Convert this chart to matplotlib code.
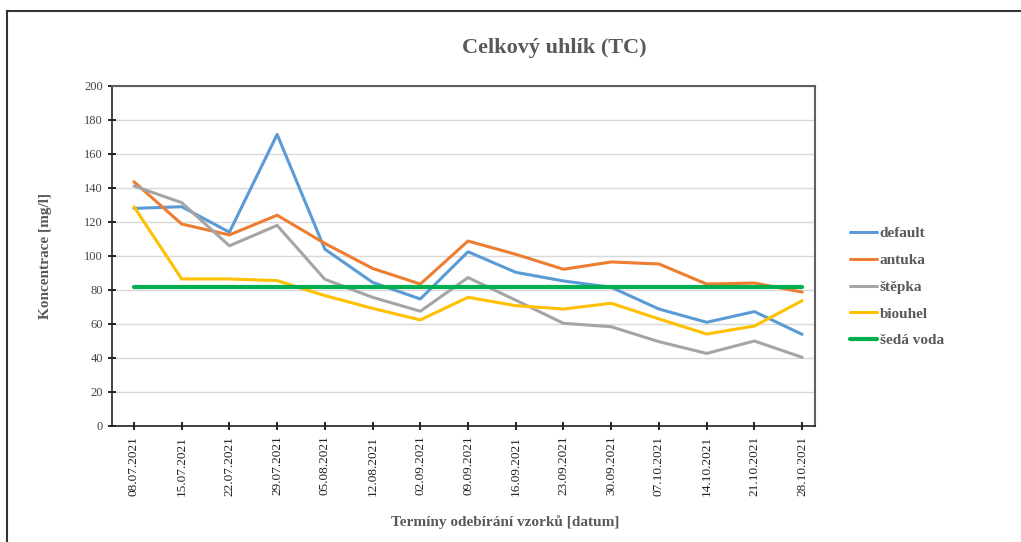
import matplotlib.pyplot as plt
from matplotlib.lines import Line2D

plt.rcParams['font.family'] = ['Liberation Serif', 'DejaVu Serif']

# data
dates = ["08.07.2021", "15.07.2021", "22.07.2021", "29.07.2021", "05.08.2021",
         "12.08.2021", "02.09.2021", "09.09.2021", "16.09.2021", "23.09.2021",
         "30.09.2021", "07.10.2021", "14.10.2021", "21.10.2021", "28.10.2021"]
default = [128, 129, 114, 171.5, 104, 84.5, 74.7, 102.5, 90.4, 85.3, 81.6, 68.8, 61, 67.3, 53.9]
antuka = [143.7, 118.8, 112.4, 124, 107.4, 92.7, 83.5, 108.8, 101, 92.2, 96.5, 95.3, 83.5, 84.1, 78.8]
stepka = [141.2, 131.4, 106, 118, 86.3, 75.7, 67.5, 87.3, 74, 60.4, 58.4, 49.6, 42.7, 50, 40.4]
biouhel = [129, 86.5, 86.5, 85.5, 76.7, 69.2, 62.4, 75.7, 70.8, 68.8, 72.2, 63, 54.1, 58.8, 73.7]
seda_voda = [81.5] * 15

series = [("default", default, "#5B9BD5", 2.2),
          ("antuka", antuka, "#ED7D31", 2.2),
          ("štěpka", stepka, "#A5A5A5", 2.2),
          ("biouhel", biouhel, "#FFC000", 2.2),
          ("šedá voda", seda_voda, "#00B050", 3.0)]

fig = plt.figure(figsize=(10.21, 5.42), dpi=100)
ax = fig.add_axes([112/1021, 1 - 426/542, (815-112)/1021, (426-86)/542])

x = range(len(dates))
for name, vals, col, lw in series:
    ax.plot(x, vals, color=col, lw=lw, label=name, solid_capstyle='round')

ax.set_ylim(0, 200)
ax.set_yticks(range(0, 201, 20))
ax.set_xlim(-0.46, 14.27)
ax.set_xticks(list(x))
ax.set_xticklabels(dates, rotation=90, fontsize=9.5, color='#222222')
ax.tick_params(axis='y', labelsize=9, labelcolor='#444444', direction='inout', length=6, width=1.2)
ax.tick_params(axis='x', direction='inout', length=6, width=1.2, pad=4)
ax.grid(axis='y', color='#d9d9d9', lw=1)
ax.set_axisbelow(True)
for s in ['left', 'bottom']:
    ax.spines[s].set_color('#222222')
    ax.spines[s].set_linewidth(1.2)
for s in ['top', 'right']:
    ax.spines[s].set_color('#606060')
    ax.spines[s].set_linewidth(1.5)

fig.text(554/1021, 1 - 48/542, "Celkový uhlík (TC)", ha='center', va='center',
         fontsize=16, fontweight='bold', color='#595959')
fig.text(45/1021, 1 - 256/542, "Koncentrace [mg/l]", ha='center', va='center',
         rotation=90, fontsize=11, fontweight='bold', color='#595959')
fig.text(505/1021, 1 - 522/542, "Termíny odebírání vzorků [datum]", ha='center', va='center',
         fontsize=11, fontweight='bold', color='#595959')

leg = fig.legend(loc='center left', bbox_to_anchor=(836/1021, 1 - 287/542), frameon=False,
                 prop={'weight': 'bold', 'size': 11}, handlelength=1.8, handletextpad=0.15,
                 labelspacing=0.85)
for t in leg.get_texts():
    t.set_color('#595959')

# outer frame, only left and top edges visible
fig.lines.append(Line2D([7/1021, 7/1021], [0, 1 - 11/542], transform=fig.transFigure,
                        color='#333333', lw=1.5))
fig.lines.append(Line2D([7/1021, 1], [1 - 11/542, 1 - 11/542], transform=fig.transFigure,
                        color='#333333', lw=1.5))

fig.savefig("out.png", dpi=100)
